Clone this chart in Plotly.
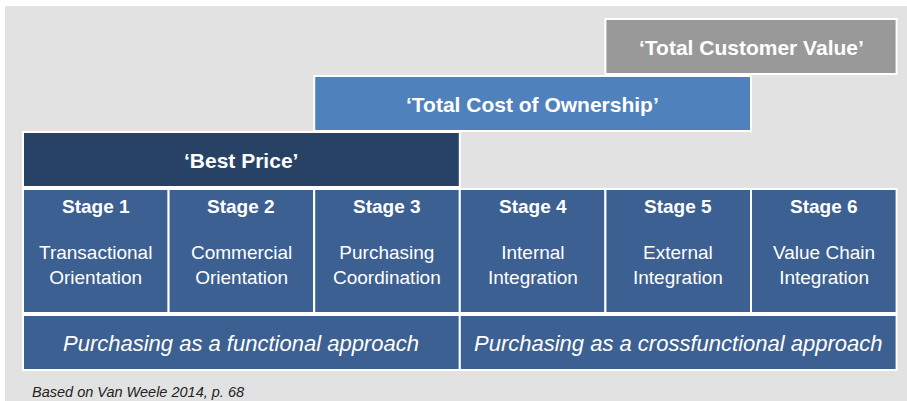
import plotly.graph_objects as go

# stage columns
stage_titles = ["Stage 1", "Stage 2", "Stage 3", "Stage 4", "Stage 5", "Stage 6"]
stage_desc = ["Transactional<br>Orientation", "Commercial<br>Orientation", "Purchasing<br>Coordination",
              "Internal<br>Integration", "External<br>Integration", "Value Chain<br>Integration"]

# focus levels: label, first column, last column (exclusive)
level_labels = ["‘Best Price’", "‘Total Cost of Ownership’", "‘Total Customer Value’"]
level_start = [0, 2, 4]
level_end = [3, 5, 6]
level_colors = ["#284266", "#4f81bd", "#999999"]

# approach row
approach_labels = ["Purchasing as a functional approach", "Purchasing as a crossfunctional approach"]
approach_start = [0, 3]
approach_end = [3, 6]

source_note = "Based on Van Weele 2014, p. 68"

W, H = 907, 401
col_px = 145.6
x0_px = 23
STAGE_COLOR = "#3c6091"
FONT = "Liberation Sans, Arial, sans-serif"

# vertical layout (px from top)
level_rows = [(132, 187), (76, 131), (19, 74)]
stage_row = (189, 313)
approach_row = (315, 370)

fig = go.Figure()
shapes = []
annotations = []


def box(x0, x1, y0, y1, color):
    shapes.append(dict(type="rect", xref="x", yref="y", x0=x0, x1=x1, y0=y0, y1=y1,
                       fillcolor=color, line=dict(color="white", width=2), layer="below"))


# gray backdrop
shapes.append(dict(type="rect", xref="paper", yref="paper", x0=5 / W, x1=1, y0=0, y1=1 - 6 / H,
                   fillcolor="#e2e2e2", line=dict(width=0), layer="below"))

for i, (lab, s, e, c) in enumerate(zip(level_labels, level_start, level_end, level_colors)):
    y0, y1 = level_rows[i]
    box(s, e, y0, y1, c)
    annotations.append(dict(x=(s + e) / 2, y=(y0 + y1) / 2 + 1, text="<b>" + lab + "</b>", showarrow=False,
                            font=dict(size=21, color="white", family=FONT)))

for i, (t, d) in enumerate(zip(stage_titles, stage_desc)):
    box(i, i + 1, stage_row[0], stage_row[1], STAGE_COLOR)
    annotations.append(dict(x=i + 0.5, y=206, text="<b>" + t + "</b>", showarrow=False,
                            font=dict(size=19, color="white", family=FONT)))
    annotations.append(dict(x=i + 0.5, y=265, text=d, showarrow=False,
                            font=dict(size=19, color="white", family=FONT)))

for lab, s, e in zip(approach_labels, approach_start, approach_end):
    box(s, e, approach_row[0], approach_row[1], STAGE_COLOR)
    annotations.append(dict(x=(s + e) / 2, y=(approach_row[0] + approach_row[1]) / 2 + 1, text="<i>" + lab + "</i>",
                            showarrow=False, font=dict(size=22, color="white", family=FONT)))

annotations.append(dict(x=(30 - x0_px) / col_px, y=392, text="<i>" + source_note + "</i>", showarrow=False,
                        xanchor="left", font=dict(size=14.5, color="#222222", family=FONT)))

fig.update_layout(
    width=W, height=H,
    margin=dict(l=0, r=0, t=0, b=0),
    paper_bgcolor="white", plot_bgcolor="rgba(0,0,0,0)",
    shapes=shapes, annotations=annotations,
    showlegend=False,
)
fig.update_xaxes(range=[-x0_px / col_px, (W - x0_px) / col_px], visible=False, fixedrange=True)
fig.update_yaxes(range=[H, 0], visible=False, fixedrange=True)

fig.write_html("out.html", config={"displayModeBar": False},
               post_script="document.body.style.margin='0';")
